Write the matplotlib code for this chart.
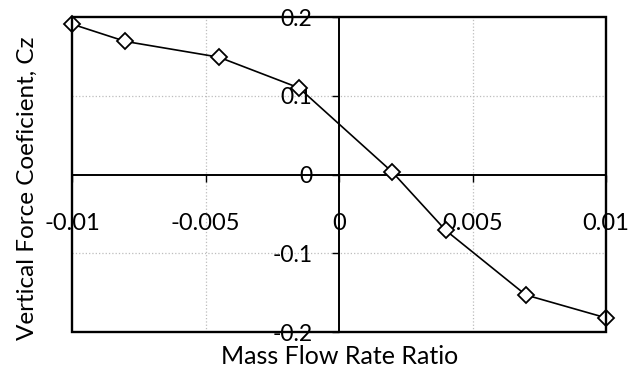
import matplotlib.pyplot as plt
from matplotlib.patches import Rectangle

plt.rcParams['font.family'] = ['Lato', 'DejaVu Sans']

# data
mass_flow = [-0.01, -0.008, -0.0045, -0.0015, 0.002, 0.004, 0.007, 0.01]
cz = [0.191, 0.169, 0.149, 0.110, 0.003, -0.071, -0.153, -0.182]
x_ticks = [-0.01, -0.005, 0, 0.005, 0.01]
x_ticklabels = ['-0.01', '-0.005', '0', '0.005', '0.01']
y_ticks = [-0.2, -0.1, 0, 0.1, 0.2]
y_ticklabels = ['-0.2', '-0.1', '0', '0.1', '0.2']

fig = plt.figure(figsize=(6.44, 3.68), dpi=100)
ax = fig.add_axes([0.1118, 0.0978, 0.8292, 0.856])

# grid only at the inner ticks, dotted grey
for xv in [-0.005, 0.005]:
    ax.axvline(xv, color='#bdbdbd', ls=':', lw=0.9, zorder=0)
for yv in [-0.1, 0.1]:
    ax.axhline(yv, color='#bdbdbd', ls=':', lw=0.9, zorder=0)

ax.plot(mass_flow, cz, color='black', lw=1.2, marker='D', ms=8.5,
        mfc='white', mec='black', mew=1.3, zorder=3, clip_on=False)

ax.set_xlim(-0.01, 0.01)
ax.set_ylim(-0.2, 0.2)

# axes cross at zero, frame round the plot area
ax.spines['left'].set_position('zero')
ax.spines['bottom'].set_position('zero')
for s in ['left', 'bottom', 'top', 'right']:
    ax.spines[s].set_linewidth(1.4)
ax.add_patch(Rectangle((0, 0), 1, 1, transform=ax.transAxes, fill=False,
                       lw=1.7, ec='black', zorder=4, clip_on=False))

ax.set_xticks(x_ticks)
ax.set_xticklabels(x_ticklabels)
ax.set_yticks(y_ticks)
ax.set_yticklabels(y_ticklabels)
ax.tick_params(axis='x', direction='out', length=5, width=1, pad=23, labelsize=17)
ax.tick_params(axis='y', direction='out', length=5, width=1, pad=14, labelsize=16.5)

fig.text(0.527, 0.0, 'Mass Flow Rate Ratio', ha='center', va='bottom', fontsize=18)
fig.text(0.042, 0.489, 'Vertical Force Coeficient, Cz', ha='center', va='center',
         rotation=90, fontsize=17.5)

fig.savefig('out.png', dpi=100)
